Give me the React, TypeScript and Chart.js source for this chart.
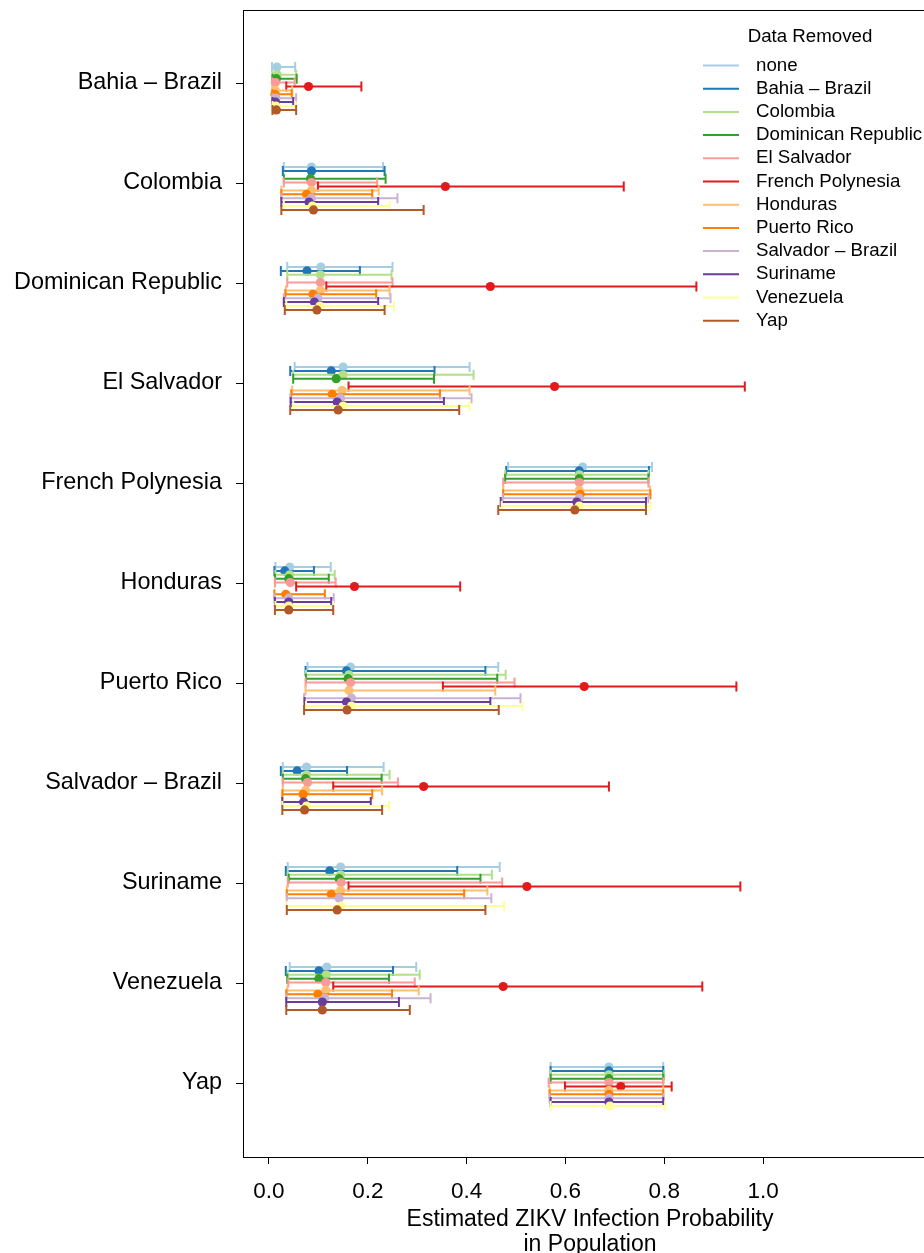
import { useEffect, useRef } from "react";
import { Chart, registerables } from "chart.js";

Chart.register(...registerables);

// Locations on the vertical axis (top to bottom)
const locations = [
  "Bahia – Brazil",
  "Colombia",
  "Dominican Republic",
  "El Salvador",
  "French Polynesia",
  "Honduras",
  "Puerto Rico",
  "Salvador – Brazil",
  "Suriname",
  "Venezuela",
  "Yap",
];

// Which location's data was left out of the fit
const removedLabels = [
  "none",
  "Bahia – Brazil",
  "Colombia",
  "Dominican Republic",
  "El Salvador",
  "French Polynesia",
  "Honduras",
  "Puerto Rico",
  "Salvador – Brazil",
  "Suriname",
  "Venezuela",
  "Yap",
];

const seriesColors = [
  "#A6CEE3",
  "#1F78B4",
  "#B2DF8A",
  "#33A02C",
  "#FB9A99",
  "#E31A1C",
  "#FDBF6F",
  "#FF7F00",
  "#CAB2D6",
  "#6A3D9A",
  "#FFFF99",
  "#B15928",
];

const xTickValues = [0, 0.2, 0.4, 0.6, 0.8, 1.0];
const xTickLabels = ["0.0", "0.2", "0.4", "0.6", "0.8", "1.0"];

// Estimates and interval bounds, one value per location (null = that location was removed)
const estNone = [0.016, 0.086, 0.105, 0.150, 0.635, 0.042, 0.165, 0.076, 0.145, 0.117, 0.688];
const loNone = [0.006, 0.030, 0.037, 0.052, 0.484, 0.013, 0.078, 0.028, 0.038, 0.042, 0.570];
const hiNone = [0.053, 0.231, 0.250, 0.406, 0.775, 0.125, 0.464, 0.232, 0.467, 0.298, 0.798];

const estBahia = [null, 0.086, 0.077, 0.126, 0.628, 0.032, 0.157, 0.057, 0.123, 0.101, 0.688];
const loBahia = [null, 0.028, 0.024, 0.043, 0.480, 0.011, 0.074, 0.024, 0.034, 0.034, 0.570];
const hiBahia = [null, 0.234, 0.184, 0.335, 0.769, 0.091, 0.438, 0.158, 0.381, 0.251, 0.798];

const estColombia = [0.017, null, 0.104, 0.150, 0.628, 0.042, 0.162, 0.076, 0.145, 0.116, 0.688];
const loColombia = [0.007, null, 0.037, 0.049, 0.478, 0.013, 0.075, 0.028, 0.038, 0.038, 0.570];
const hiColombia = [0.055, null, 0.248, 0.414, 0.768, 0.133, 0.479, 0.244, 0.451, 0.305, 0.800];

const estDominican = [0.015, 0.084, null, 0.136, 0.628, 0.040, 0.160, 0.074, 0.142, 0.101, 0.688];
const loDominican = [0.007, 0.030, null, 0.049, 0.478, 0.012, 0.075, 0.028, 0.040, 0.037, 0.570];
const hiDominican = [0.056, 0.236, null, 0.334, 0.768, 0.121, 0.462, 0.228, 0.428, 0.243, 0.798];

const estElSalvador = [0.013, 0.086, 0.104, null, 0.628, 0.043, 0.165, 0.078, 0.146, 0.115, 0.688];
const loElSalvador = [0.007, 0.030, 0.037, null, 0.474, 0.012, 0.074, 0.028, 0.038, 0.039, 0.566];
const hiElSalvador = [0.052, 0.219, 0.250, null, 0.768, 0.135, 0.497, 0.261, 0.472, 0.295, 0.798];

const estFrenchPoly = [0.080, 0.357, 0.448, 0.578, null, 0.173, 0.638, 0.313, 0.522, 0.474, 0.712];
const loFrenchPoly = [0.035, 0.099, 0.116, 0.161, null, 0.055, 0.352, 0.130, 0.161, 0.130, 0.599];
const hiFrenchPoly = [0.187, 0.718, 0.865, 0.963, null, 0.387, 0.946, 0.688, 0.954, 0.877, 0.815];

const estHonduras = [0.013, 0.086, 0.104, 0.148, 0.628, null, 0.162, 0.074, 0.145, 0.115, 0.688];
const loHonduras = [0.007, 0.025, 0.034, 0.047, 0.474, null, 0.074, 0.028, 0.036, 0.037, 0.568];
const hiHonduras = [0.047, 0.222, 0.244, 0.406, 0.771, null, 0.458, 0.229, 0.442, 0.303, 0.798];

const estPuertoRico = [0.012, 0.076, 0.089, 0.128, 0.630, 0.034, null, 0.069, 0.126, 0.099, 0.688];
const loPuertoRico = [0.007, 0.025, 0.033, 0.045, 0.474, 0.011, null, 0.027, 0.036, 0.035, 0.568];
const hiPuertoRico = [0.046, 0.209, 0.217, 0.346, 0.772, 0.113, null, 0.209, 0.395, 0.249, 0.798];

const estSalvador = [0.014, 0.086, 0.099, 0.145, 0.628, 0.040, 0.167, null, 0.142, 0.113, 0.688];
const loSalvador = [0.007, 0.025, 0.030, 0.043, 0.473, 0.011, 0.071, null, 0.036, 0.035, 0.568];
const hiSalvador = [0.055, 0.260, 0.246, 0.410, 0.768, 0.131, 0.509, null, 0.450, 0.327, 0.798];

const estSuriname = [0.013, 0.081, 0.092, 0.138, 0.623, 0.040, 0.157, 0.070, null, 0.108, 0.688];
const loSuriname = [0.007, 0.025, 0.030, 0.044, 0.469, 0.012, 0.072, 0.027, null, 0.035, 0.570];
const hiSuriname = [0.049, 0.221, 0.221, 0.354, 0.763, 0.126, 0.448, 0.206, null, 0.263, 0.798];

const estVenezuela = [0.014, 0.088, 0.103, 0.150, 0.628, 0.040, 0.167, 0.076, 0.146, null, 0.690];
const loVenezuela = [0.007, 0.030, 0.035, 0.049, 0.471, 0.013, 0.075, 0.027, 0.037, null, 0.570];
const hiVenezuela = [0.054, 0.244, 0.253, 0.406, 0.772, 0.130, 0.513, 0.243, 0.476, null, 0.802];

const estYap = [0.015, 0.090, 0.097, 0.140, 0.619, 0.040, 0.158, 0.072, 0.138, 0.108, null];
const loYap = [0.007, 0.025, 0.032, 0.043, 0.464, 0.012, 0.071, 0.027, 0.036, 0.035, null];
const hiYap = [0.055, 0.313, 0.234, 0.385, 0.763, 0.130, 0.465, 0.229, 0.438, 0.285, null];

const estimates = [
  estNone, estBahia, estColombia, estDominican, estElSalvador, estFrenchPoly,
  estHonduras, estPuertoRico, estSalvador, estSuriname, estVenezuela, estYap,
];
const lowers = [
  loNone, loBahia, loColombia, loDominican, loElSalvador, loFrenchPoly,
  loHonduras, loPuertoRico, loSalvador, loSuriname, loVenezuela, loYap,
];
const uppers = [
  hiNone, hiBahia, hiColombia, hiDominican, hiElSalvador, hiFrenchPoly,
  hiHonduras, hiPuertoRico, hiSalvador, hiSuriname, hiVenezuela, hiYap,
];

// vertical dodge of each series within a location row (in category units)
const DODGE_START = -0.16;
const DODGE_STEP = 0.039;

const FONT = "'Liberation Sans', Arial, Helvetica, sans-serif";

type Pt = { x: number; y: number; lo: number; hi: number };

const errorBarPlugin = {
  id: "errorBars",
  beforeDatasetDraw(chart: any, args: any) {
    const ds = chart.data.datasets[args.index];
    const { ctx, chartArea, scales } = chart;
    const xs = scales.x;
    const ys = scales.y;
    const cap = 5;
    ctx.save();
    ctx.beginPath();
    ctx.rect(chartArea.left, chartArea.top, chartArea.right - chartArea.left, chartArea.bottom - chartArea.top);
    ctx.clip();
    ctx.strokeStyle = ds.backgroundColor;
    ctx.lineWidth = 2;
    ctx.lineCap = "butt";
    (ds.data as Pt[]).forEach((p) => {
      const x0 = xs.getPixelForValue(p.lo);
      const x1 = xs.getPixelForValue(p.hi);
      const y = ys.getPixelForValue(p.y);
      ctx.beginPath();
      ctx.moveTo(x0, y);
      ctx.lineTo(x1, y);
      ctx.moveTo(x0, y - cap);
      ctx.lineTo(x0, y + cap);
      ctx.moveTo(x1, y - cap);
      ctx.lineTo(x1, y + cap);
      ctx.stroke();
    });
    ctx.restore();
  },
};

const framePlugin = {
  id: "frame",
  afterDraw(chart: any) {
    const { ctx, chartArea } = chart;
    ctx.save();
    ctx.strokeStyle = "#000";
    ctx.lineWidth = 1;
    ctx.strokeRect(
      Math.round(chartArea.left) + 0.5,
      Math.round(chartArea.top) + 0.5,
      Math.round(chartArea.right - chartArea.left),
      Math.round(chartArea.bottom - chartArea.top)
    );
    ctx.restore();
  },
};

const legendPlugin = {
  id: "removedLegend",
  afterDraw(chart: any) {
    const { ctx } = chart;
    const lineX0 = 703;
    const lineX1 = 739;
    const textX = 756;
    const firstY = 65.5;
    const rowH = 23.2;
    ctx.save();
    ctx.fillStyle = "#000";
    ctx.font = `18.7px ${FONT}`;
    ctx.textBaseline = "middle";
    ctx.textAlign = "center";
    ctx.fillText("Data Removed", 810, 36.5);
    ctx.textAlign = "left";
    removedLabels.forEach((label, i) => {
      const y = firstY + rowH * i;
      ctx.strokeStyle = seriesColors[i];
      ctx.lineWidth = 2;
      ctx.beginPath();
      ctx.moveTo(lineX0, y);
      ctx.lineTo(lineX1, y);
      ctx.stroke();
      ctx.fillText(label, textX, y);
    });
    ctx.restore();
  },
};

export default function App() {
  const canvasRef = useRef<HTMLCanvasElement | null>(null);

  useEffect(() => {
    const canvas = canvasRef.current;
    if (!canvas) return;

    const datasets = removedLabels.map((label, s) => {
      const data: Pt[] = [];
      locations.forEach((_, g) => {
        const e = estimates[s][g];
        const lo = lowers[s][g];
        const hi = uppers[s][g];
        if (e == null || lo == null || hi == null) return;
        data.push({ x: e, y: g + DODGE_START + DODGE_STEP * s, lo, hi });
      });
      return {
        label,
        data,
        backgroundColor: seriesColors[s],
        borderColor: seriesColors[s],
        borderWidth: 0,
        pointRadius: 4.6,
        pointHoverRadius: 4.6,
        showLine: false,
        order: removedLabels.length - s,
      };
    });

    const chart = new Chart(canvas, {
      type: "scatter",
      data: { datasets },
      plugins: [errorBarPlugin, framePlugin, legendPlugin],
      options: {
        responsive: false,
        animation: false,
        events: [],
        layout: { padding: { top: 10, right: 8, left: 0, bottom: 0 } },
        plugins: {
          legend: { display: false },
          tooltip: { enabled: false },
        },
        scales: {
          x: {
            type: "linear",
            position: "bottom",
            min: -0.0526,
            max: 1.352,
            afterBuildTicks: (scale: any) => {
              scale.ticks = xTickValues.map((v) => ({ value: v }));
            },
            afterFit: (scale: any) => {
              scale.height = 96;
              scale.paddingLeft = 0;
              scale.paddingRight = 0;
            },
            ticks: {
              autoSkip: false,
              maxRotation: 0,
              padding: 14,
              color: "#000",
              font: { family: FONT, size: 22.5 },
              callback: (_v: any, i: number) => xTickLabels[i],
            },
            grid: {
              display: true,
              drawOnChartArea: false,
              drawTicks: true,
              tickLength: 7,
              color: "#000",
              lineWidth: 1,
            },
            border: { display: false },
            title: {
              display: true,
              text: ["Estimated ZIKV Infection Probability", "in Population"],
              color: "#000",
              font: { family: FONT, size: 23, lineHeight: "25px" },
              padding: { top: 0, bottom: -4 },
            },
          },
          y: {
            type: "linear",
            reverse: true,
            min: -0.73,
            max: 10.74,
            afterBuildTicks: (scale: any) => {
              scale.ticks = locations.map((_, i) => ({ value: i }));
            },
            afterFit: (scale: any) => {
              scale.width = 243;
              scale.paddingTop = 0;
              scale.paddingBottom = 0;
            },
            ticks: {
              autoSkip: false,
              padding: 14,
              color: "#000",
              font: { family: FONT, size: 23.4 },
              callback: (_v: any, i: number) => locations[i],
            },
            grid: {
              display: true,
              drawOnChartArea: false,
              drawTicks: true,
              tickLength: 7,
              color: "#000",
              lineWidth: 1,
            },
            border: { display: false },
          },
        },
      } as any,
    });

    return () => chart.destroy();
  }, []);

  return (
    <div
      style={{
        position: "fixed",
        left: 0,
        top: 0,
        width: 924,
        height: 1253,
        overflow: "hidden",
        background: "#fff",
      }}
    >
      <canvas ref={canvasRef} width={945} height={1253} style={{ display: "block", width: 945, height: 1253 }} />
    </div>
  );
}
